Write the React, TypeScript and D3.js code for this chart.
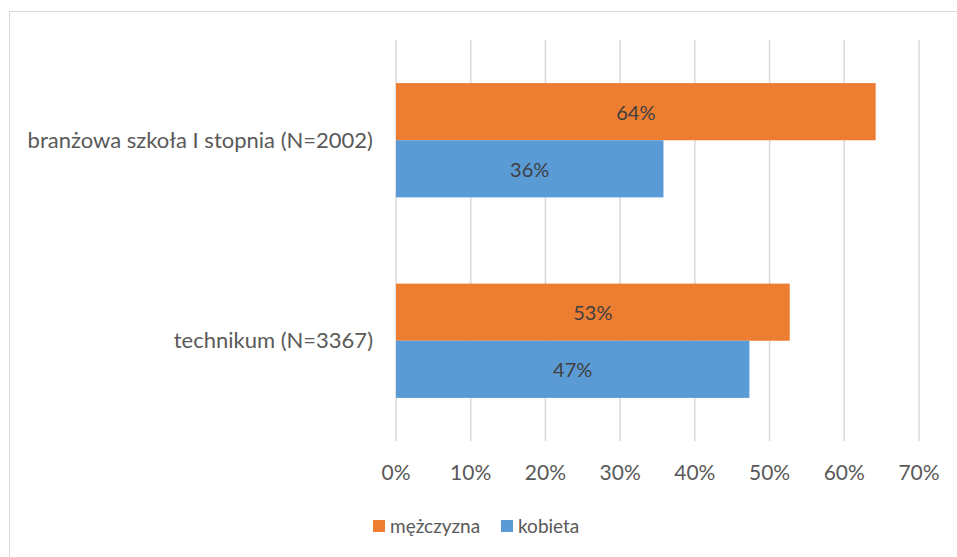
import React from 'react'
import * as d3 from 'd3'

const categories = ['branżowa szkoła I stopnia (N=2002)', 'technikum (N=3367)']
const seriesNames = ['mężczyzna', 'kobieta']
const maleValues = [64.2, 52.7]
const femaleValues = [35.8, 47.3]
const xTicks = [0, 10, 20, 30, 40, 50, 60, 70]

const colors = ['#ED7D31', '#5B9BD5']
const width = 957
const height = 557
const font = 'Lato, "Open Sans", sans-serif'
const textColor = '#595959'

const xScale = d3.scaleLinear().domain([0, 70]).range([396, 919])
const yScale = d3
  .scaleBand<string>()
  .domain(categories)
  .range([40, 441])
  .paddingInner(0.43)
  .paddingOuter(0.215)
const inner = d3.scaleBand<string>().domain(seriesNames).range([0, yScale.bandwidth()])

export default function App() {
  const values = [maleValues, femaleValues]
  return (
    <svg
      width={width}
      height={height}
      style={{ position: 'fixed', left: 0, top: 0, background: '#fff' }}
      fontFamily={font}
    >
      <rect x={9.5} y={11.5} width={width} height={height} fill="#fff" stroke="#d9d9d9" />

      {xTicks.map(t => (
        <g key={t}>
          <line x1={xScale(t)} x2={xScale(t)} y1={40} y2={441} stroke="#d9d9d9" strokeWidth={1.5} />
          <text x={xScale(t)} y={473} dy="0.35em" textAnchor="middle" fontSize={21} fill={textColor}>
            {t}%
          </text>
        </g>
      ))}

      {categories.map((c, i) => (
        <g key={c}>
          <text
            x={373}
            y={yScale(c)! + yScale.bandwidth() / 2}
            dy="0.35em"
            textAnchor="end"
            fontSize={22}
            fill={textColor}
          >
            {c}
          </text>
          {seriesNames.map((s, j) => {
            const v = values[j][i]
            const y = yScale(c)! + inner(s)!
            return (
              <g key={s}>
                <rect
                  x={xScale(0)}
                  y={y}
                  width={xScale(v) - xScale(0)}
                  height={inner.bandwidth()}
                  fill={colors[j]}
                />
                <text
                  x={(xScale(0) + xScale(v)) / 2}
                  y={y + inner.bandwidth() / 2 + 1}
                  dy="0.35em"
                  textAnchor="middle"
                  fontSize={20}
                  fill="#404040"
                >
                  {Math.round(v)}%
                </text>
              </g>
            )
          })}
        </g>
      ))}

      {seriesNames.map((s, j) => {
        const lx = [373, 501][j]
        return (
          <g key={s}>
            <rect x={lx} y={520} width={12} height={12} fill={colors[j]} />
            <text x={lx + 17} y={526} dy="0.35em" fontSize={19} fill={textColor}>
              {s}
            </text>
          </g>
        )
      })}
    </svg>
  )
}
